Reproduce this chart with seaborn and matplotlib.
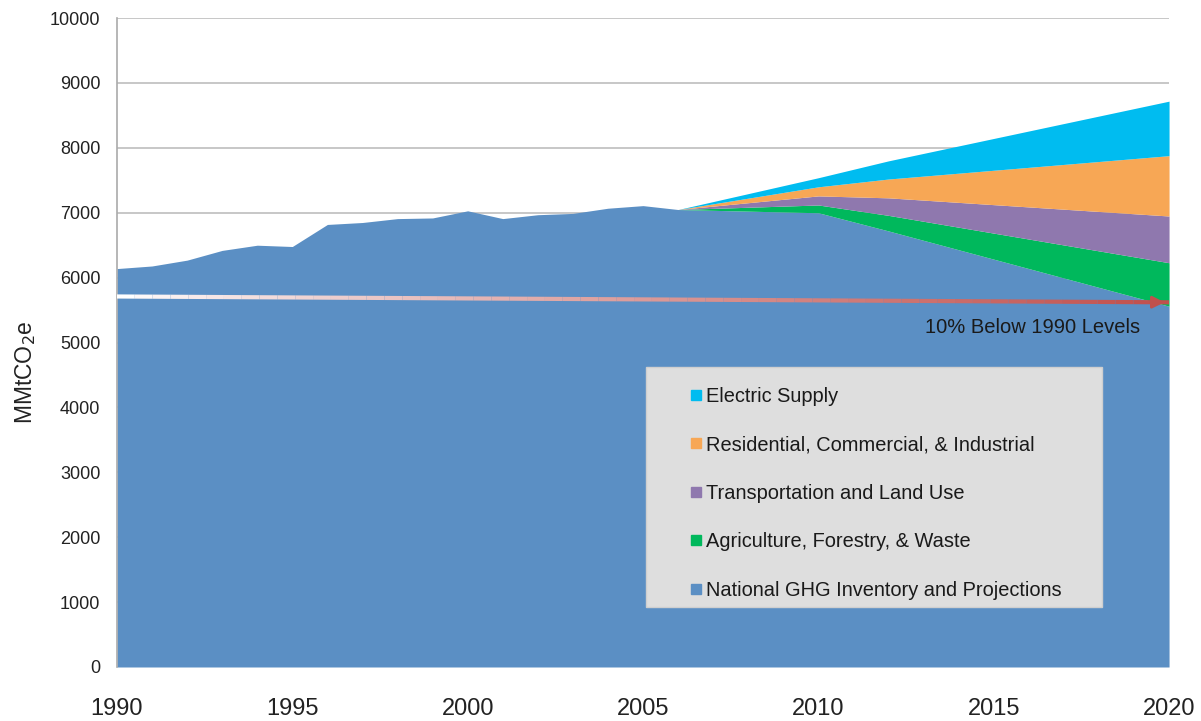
import numpy as np
import matplotlib
matplotlib.use("Agg")
import matplotlib.pyplot as plt
import seaborn as sns
from matplotlib.collections import LineCollection
from matplotlib.lines import Line2D
from matplotlib.patches import Rectangle
from matplotlib.colors import to_rgb

# data (MMtCO2e)
years = [1990, 1991, 1992, 1993, 1994, 1995, 1996, 1997, 1998, 1999, 2000,
         2001, 2002, 2003, 2004, 2005, 2006, 2010, 2012, 2020]
national = [6140, 6180, 6270, 6420, 6500, 6480, 6820, 6850, 6910, 6920, 7030,
            6910, 6970, 6990, 7070, 7110, 7050, 7000, 6720, 5560]
pre = [0] * 17
agriculture = pre + [120, 240, 670]
transport = pre + [140, 270, 720]
residential = pre + [140, 290, 930]
electric = pre + [140, 280, 840]

target_years = [1990, 2020]
target_levels = [5710, 5620]

labels = ["National GHG Inventory and Projections", "Agriculture, Forestry, & Waste",
          "Transportation and Land Use", "Residential, Commercial, & Industrial",
          "Electric Supply"]
colors = ["#5b8fc4", "#00b85c", "#8f78ae", "#f7a755", "#00bcf0"]

sns.set_theme(style="white")
plt.rcParams['font.family'] = ['Liberation Sans', 'DejaVu Sans']

fig = plt.figure(figsize=(12.01, 7.21), dpi=100)
ax = fig.add_axes([0.0974, 0.0749, 0.876, 0.9])

ax.stackplot(years, national, agriculture, transport, residential, electric,
             colors=colors, linewidth=0, zorder=2)

ax.set_xlim(1990, 2020)
ax.set_ylim(0, 10000)
ax.set_yticks(range(0, 10001, 1000))
ax.set_xticks(range(1990, 2021, 5))
ax.yaxis.grid(True, color="#bdbdbd", linewidth=1.2, zorder=1)
ax.set_axisbelow(True)
ax.tick_params(axis="y", labelsize=13, pad=12, length=0, colors="#222222")
ax.tick_params(axis="x", labelsize=17, pad=22, length=0, colors="#222222")
ax.set_ylabel("MMtCO$_2$e", fontsize=16.5, color="#222222")
ax.yaxis.set_label_coords(-0.075, 0.455)
sns.despine(ax=ax, top=True, right=True, bottom=True)
ax.spines["left"].set_color("#aaaaaa")
ax.spines["left"].set_linewidth(1.2)

# target line: white fading into red, arrow at the end
n = 60
xs = np.linspace(target_years[0], target_years[1], n)
ys = np.interp(xs, target_years, target_levels)
pts = np.column_stack([xs, ys]).reshape(-1, 1, 2)
segs = np.concatenate([pts[:-1], pts[1:]], axis=1)
c0 = np.array(to_rgb("#ffffff"))
c1 = np.array(to_rgb("#c0504d"))
t = np.linspace(0, 1, n - 1) ** 0.8
seg_colors = [tuple(c0 + (c1 - c0) * k) for k in t]
ax.add_collection(LineCollection(segs, colors=seg_colors, linewidth=3, zorder=4))
ax.annotate("", xy=(target_years[1] - 0.05, target_levels[1]),
            xytext=(target_years[1] - 0.6, target_levels[1] + 2),
            arrowprops=dict(arrowstyle="-|>", color="#c0504d", lw=2,
                            mutation_scale=18), zorder=5)
ax.text(2019.17, 5230, "10% Below 1990 Levels", fontsize=14.5, ha="right",
        va="center", color="#1a1a1a", zorder=5)

# legend box
ax.add_patch(Rectangle((0.503, 0.092), 0.433, 0.370, transform=ax.transAxes,
                       facecolor="#dedede", edgecolor="#cfcfcf", zorder=6))
handles = [Line2D([], [], marker="s", linestyle="none", markersize=7,
                  color=c) for c in colors]
leg = ax.legend(handles[::-1], labels[::-1], loc="upper left",
                bbox_to_anchor=(0.546, 0.432), frameon=False, fontsize=14.4,
                handlelength=0.5, handletextpad=0.25, labelspacing=1.48,
                borderpad=0, borderaxespad=0)
leg.set_zorder(7)
for txt in leg.get_texts():
    txt.set_color("#1a1a1a")

fig.savefig("out.png", dpi=100)
